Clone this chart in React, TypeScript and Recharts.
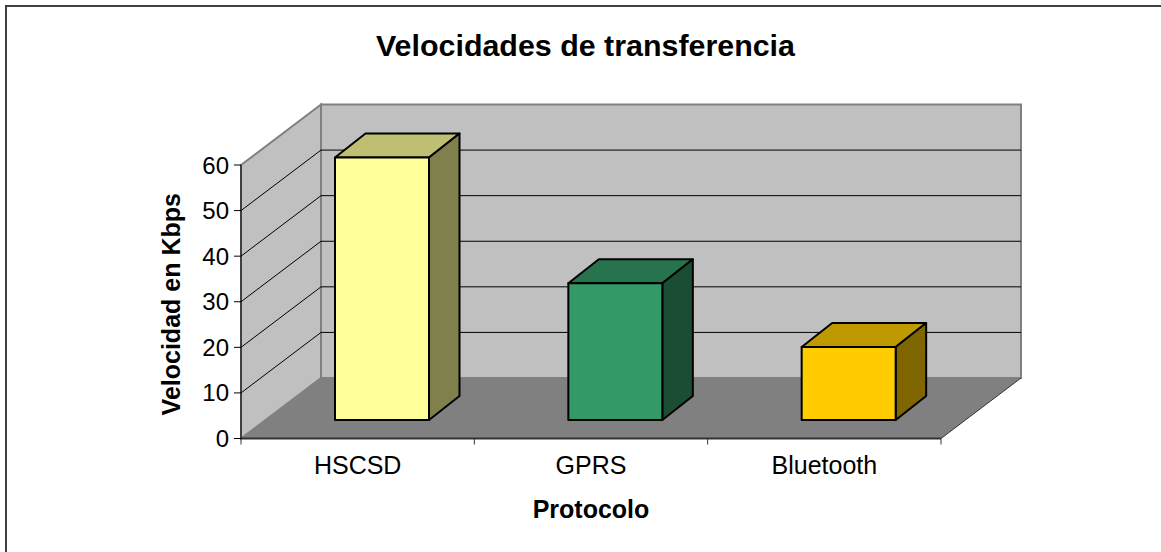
import React from "react";
import { BarChart, Bar, XAxis, YAxis, Cell, usePlotArea } from "recharts";

const protocols = ["HSCSD", "GPRS", "Bluetooth"];
const speeds = [57.6, 30, 16];
const yTicks = [0, 10, 20, 30, 40, 50, 60];
const frontColors = ["#FFFF99", "#339966", "#FFCC00"];
const topColors = ["#BFBF73", "#26734D", "#BF9900"];
const sideColors = ["#80804D", "#1A4D33", "#806600"];

const data = protocols.map((name, i) => ({ name, speed: speeds[i] }));

const FONT = "'Liberation Sans', Arial, sans-serif";
const yMax = 60;

// profundidad de la caja 3D (pared del fondo respecto al eje)
const WALL_DX = 80;
const WALL_DY = -60.5;
// posicion de las barras dentro de la profundidad
const BAR_DX = 24;
const BAR_DY = -18.5;
const BOX_DX = 30.5;
const BOX_DY = -24;

const Walls = () => {
  const plot = usePlotArea();
  if (!plot) return null;
  const { x, y, width, height } = plot;
  const bottom = y + height;
  const right = x + width;
  const yOf = (v: number) => bottom - (v / yMax) * height;
  const bandW = width / protocols.length;

  return (
    <g>
      <polygon
        points={`${x},${y} ${x + WALL_DX},${y + WALL_DY} ${x + WALL_DX},${bottom + WALL_DY} ${x},${bottom}`}
        fill="#C0C0C0"
        stroke="#808080"
        strokeWidth={2}
      />
      <polygon
        points={`${x + WALL_DX},${y + WALL_DY} ${right + WALL_DX},${y + WALL_DY} ${right + WALL_DX},${bottom + WALL_DY} ${x + WALL_DX},${bottom + WALL_DY}`}
        fill="#C0C0C0"
        stroke="#808080"
        strokeWidth={2}
      />
      <polygon
        points={`${x},${bottom} ${x + WALL_DX},${bottom + WALL_DY} ${right + WALL_DX},${bottom + WALL_DY} ${right},${bottom}`}
        fill="#808080"
      />
      {yTicks.slice(1, -1).map((t) => (
        <g key={t} stroke="#000" strokeWidth={1}>
          <line x1={x} y1={yOf(t)} x2={x + WALL_DX} y2={yOf(t) + WALL_DY} />
          <line x1={x + WALL_DX} y1={yOf(t) + WALL_DY} x2={right + WALL_DX} y2={yOf(t) + WALL_DY} />
        </g>
      ))}
      <line x1={right} y1={bottom} x2={right + WALL_DX} y2={bottom + WALL_DY} stroke="#333" strokeWidth={1} />
      {[0, 1, 2, 3].map((i) => (
        <line key={i} x1={x + i * bandW} y1={bottom} x2={x + i * bandW} y2={bottom + 6} stroke="#333" strokeWidth={1} />
      ))}
    </g>
  );
};

const Box = (props: any) => {
  const { x, y, width, height, index } = props;
  const left = x + BAR_DX;
  const top = y + BAR_DY;
  const r = left + width;
  const b = top + height;
  return (
    <g stroke="#000" strokeWidth={2} strokeLinejoin="round">
      <polygon points={`${left},${top} ${left + BOX_DX},${top + BOX_DY} ${r + BOX_DX},${top + BOX_DY} ${r},${top}`} fill={topColors[index]} />
      <polygon points={`${r},${top} ${r + BOX_DX},${top + BOX_DY} ${r + BOX_DX},${b + BOX_DY} ${r},${b}`} fill={sideColors[index]} />
      <rect x={left} y={top} width={width} height={height} fill={frontColors[index]} />
    </g>
  );
};

export default function App() {
  return (
    <div style={{ position: "absolute", left: 0, top: 0, width: 1161, height: 552, overflow: "hidden", background: "#fff" }}>
      <div style={{ position: "absolute", left: 5, top: 5, width: 1300, height: 700, border: "2px solid #404040", boxSizing: "border-box" }} />
      <div style={{ position: "absolute", left: 0, top: 0 }}>
        <BarChart
          width={1161}
          height={552}
          data={data}
          margin={{ top: 165, right: 220, bottom: 0, left: 0 }}
          style={{ fontFamily: FONT }}
        >
          <text x={585.5} y={56} textAnchor="middle" fontFamily={FONT} fontSize={30.4} fontWeight="bold" fill="#000">
            Velocidades de transferencia
          </text>
          <Walls />
          <XAxis
            dataKey="name"
            height={113.5}
            tickLine={false}
            axisLine={{ stroke: "#333", strokeWidth: 2 }}
            tick={{ fill: "#000", fontSize: 25, fontFamily: FONT }}
            tickMargin={12}
            label={{ value: "Protocolo", position: "insideBottom", offset: 34, fontSize: 25, fontWeight: "bold", fill: "#000", fontFamily: FONT }}
          />
          <YAxis
            width={241}
            domain={[0, yMax]}
            ticks={yTicks}
            interval={0}
            tickSize={7}
            tickMargin={5}
            tickLine={{ stroke: "#000" }}
            axisLine={{ stroke: "#000", strokeWidth: 1 }}
            tick={{ fill: "#000", fontSize: 24, fontFamily: FONT }}
            label={{ value: "Velocidad en Kbps", angle: -90, position: "insideLeft", offset: 0, dx: 171, dy: 2.5, fontSize: 25, fontWeight: "bold", fill: "#000", fontFamily: FONT, style: { textAnchor: "middle" } }}
          />
          <Bar dataKey="speed" barSize={94} isAnimationActive={false} shape={Box}>
            {data.map((d) => (
              <Cell key={d.name} />
            ))}
          </Bar>
        </BarChart>
      </div>
    </div>
  );
}
